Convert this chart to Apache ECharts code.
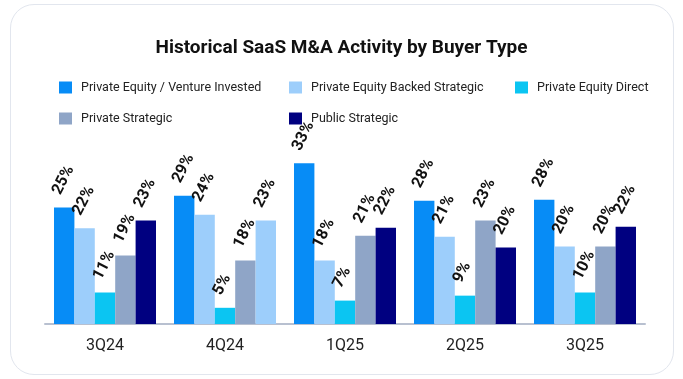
<!DOCTYPE html>
<html>
<head>
<meta charset="utf-8">
<script src="https://cdn.jsdelivr.net/npm/echarts@6/dist/echarts.min.js"></script>
<style>
  html, body { margin: 0; padding: 0; background: #ffffff; }
  #wrap { position: relative; width: 683px; height: 379px; overflow: hidden; }
  #card { position: absolute; left: 10px; top: 4px; width: 664px; height: 371px;
          border: 1px solid #e2e6ee; border-radius: 24px; box-sizing: border-box; }
  #chart { position: absolute; left: 0; top: 0; width: 683px; height: 379px; }
</style>
</head>
<body>
<div id="wrap"><div id="card"></div><div id="chart"></div></div>
<script>
// ---- data ----
const categories = ['3Q24', '4Q24', '1Q25', '2Q25', '3Q25'];
const seriesNames = ['Private Equity / Venture Invested', 'Private Equity Backed Strategic',
                     'Private Equity Direct', 'Private Strategic', 'Public Strategic'];
// printed percentages (labels)
const peVcLabels      = [25, 29, 33, 28, 28];
const peBackedLabels  = [22, 24, 18, 21, 20];
const peDirectLabels  = [11, 5, 7, 9, 10];
const privStratLabels = [19, 18, 21, 23, 20];
const pubStratLabels  = [23, 23, 22, 20, 22];
// bar heights as drawn in the picture (estimated, same % units)
const peVcBars      = [25.9, 28.5, 35.7, 27.4, 27.6];
const peBackedBars  = [21.3, 24.3, 14.1, 19.4, 17.2];
const peDirectBars  = [7.0, 3.6, 5.2, 6.3, 7.0];
const privStratBars = [15.2, 14.1, 19.6, 23.0, 17.2];
const pubStratBars  = [23.0, 23.0, 21.4, 17.0, 21.6];

const colors = ['#078cf6', '#9dcefb', '#0bc5f2', '#8fa5c7', '#000080'];
const barSets = [peVcBars, peBackedBars, peDirectBars, privStratBars, pubStratBars];
const labelSets = [peVcLabels, peBackedLabels, peDirectLabels, privStratLabels, pubStratLabels];

const chart = echarts.init(document.getElementById('chart'), null, { renderer: 'canvas' });

const legendPos = [[54, 76], [284, 76], [510, 76], [54, 107], [284, 107]];

const series = seriesNames.map((name, s) => ({
  name: name,
  type: 'bar',
  barGap: '0%',
  barCategoryGap: '15%',
  itemStyle: { color: colors[s] },
  data: barSets[s].map((v, i) => (s === 4 && i === 1)
      ? { value: v, itemStyle: { color: colors[1] } } : v),
  label: {
    show: true,
    position: 'top',
    distance: 11,
    offset: [-1, 0],
    rotate: 63,
    align: 'left',
    verticalAlign: 'bottom',
    fontFamily: 'Roboto',
    fontWeight: 'bold',
    fontSize: 16,
    color: '#111',
    formatter: p => labelSets[s][p.dataIndex] + '%'
  }
}));

chart.setOption({
  animation: false,
  color: colors,
  textStyle: { fontFamily: 'Roboto' },
  title: {
    text: 'Historical SaaS M&A Activity by Buyer Type',
    left: 'center',
    top: 34,
    textStyle: { fontFamily: 'Roboto', fontWeight: 'bold', fontSize: 19, color: '#111' }
  },
  legend: seriesNames.map((n, s) => ({
    data: [n],
    left: legendPos[s][0],
    top: legendPos[s][1],
    icon: 'rect',
    itemWidth: 13,
    itemHeight: 12,
    itemGap: 0,
    textStyle: { fontFamily: 'Roboto', fontSize: 12.5, color: '#222', padding: [0, 0, 0, 4] },
    selectedMode: false
  })),
  grid: { left: 45, right: 38, top: 144, bottom: 55 },
  xAxis: {
    type: 'category',
    data: categories,
    axisLine: { lineStyle: { color: '#b8c0d0', width: 2 } },
    axisTick: { show: false },
    axisLabel: { fontFamily: 'Roboto', fontSize: 16, color: '#222', margin: 14 }
  },
  yAxis: {
    type: 'value', min: 0, max: 40, show: false,
    splitLine: { show: false }
  },
  series: series
});
</script>
</body>
</html>
